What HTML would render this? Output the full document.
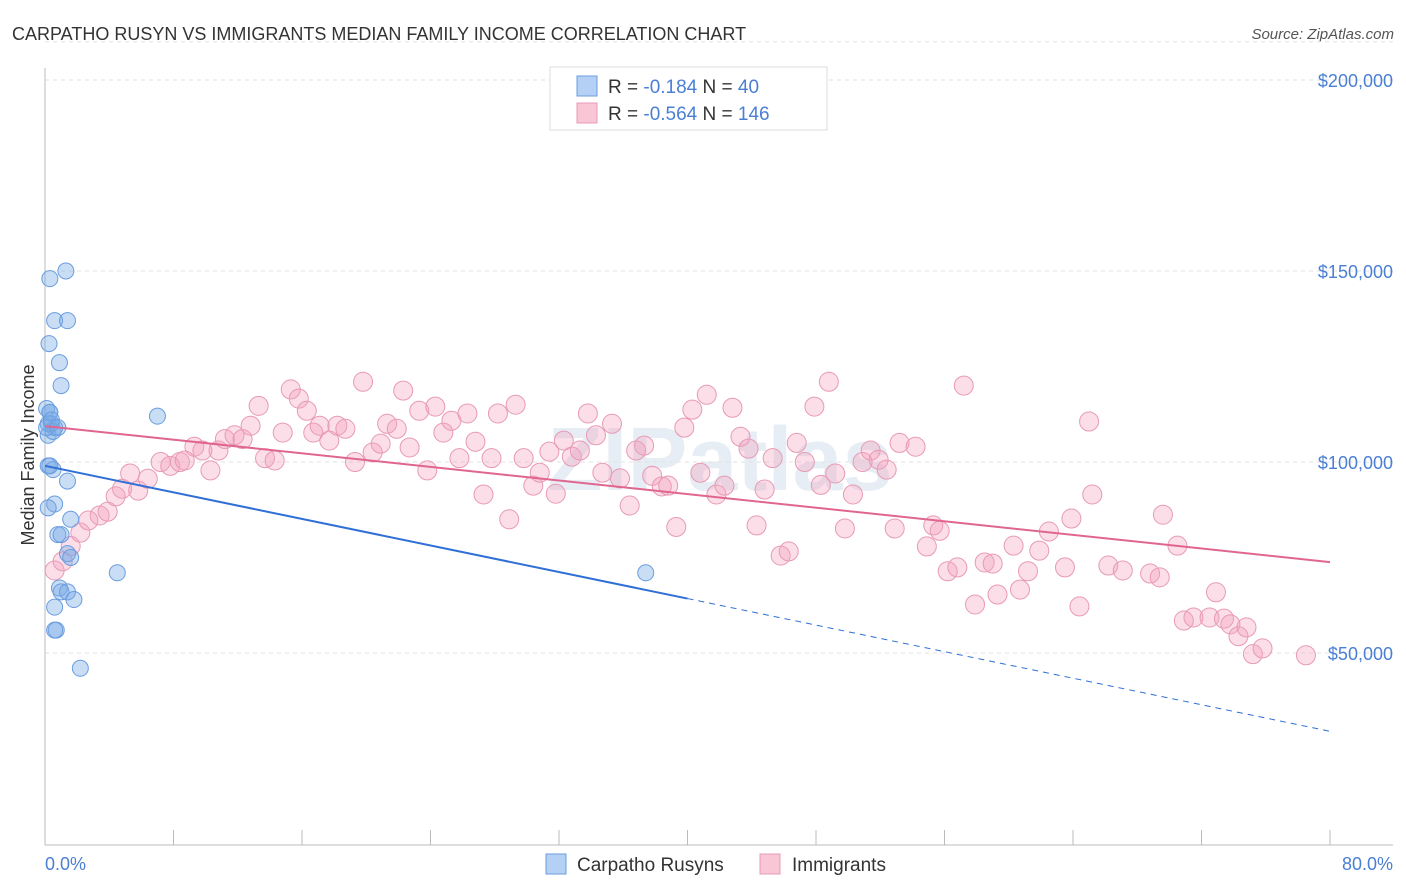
<!DOCTYPE html>
<html><head><meta charset="utf-8"><style>
body{margin:0;background:#fff;font-family:"Liberation Sans",sans-serif}
svg{display:block}
</style></head><body>
<svg id="c" width="1406" height="892" xmlns="http://www.w3.org/2000/svg">
<text x="12" y="40" font-size="18" fill="#333">CARPATHO RUSYN VS IMMIGRANTS MEDIAN FAMILY INCOME CORRELATION CHART</text>
<text x="1394" y="39" font-size="15" fill="#555" text-anchor="end" font-style="italic">Source: ZipAtlas.com</text>
<text x="720" y="490" font-size="90" fill="#d8e2ee" text-anchor="middle" font-weight="bold" opacity="0.6">ZIPatlas</text>
<g id="grid"></g><g id="pts"></g><g id="lines"></g>
<text transform="translate(34,455) rotate(-90)" font-size="18" fill="#333" text-anchor="middle">Median Family Income</text>
<text x="45" y="870" font-size="18" fill="#4a7fd4">0.0%</text>
<text x="1393" y="870" font-size="18" fill="#4a7fd4" text-anchor="end">80.0%</text>
<g>
<rect x="550" y="67" width="277" height="63" fill="#fff" stroke="#ddd"/>
<rect x="577" y="76" width="20" height="20" fill="#b5d0f5" stroke="#6a9de0"/>
<rect x="577" y="103" width="20" height="20" fill="#f9c6d6" stroke="#e89ab5"/>
<text x="608" y="93" font-size="19" fill="#333">R = <tspan fill="#4a7fd4">-0.184</tspan>   N = <tspan fill="#4a7fd4"> 40</tspan></text>
<text x="608" y="120" font-size="19" fill="#333">R = <tspan fill="#4a7fd4">-0.564</tspan>   N = <tspan fill="#4a7fd4">146</tspan></text>
</g>
<g>
<rect x="546" y="854" width="20" height="20" fill="#b5d0f5" stroke="#6a9de0"/>
<text x="577" y="871" font-size="19" fill="#333">Carpatho Rusyns</text>
<rect x="760" y="854" width="20" height="20" fill="#f9c6d6" stroke="#e89ab5"/>
<text x="792" y="871" font-size="19" fill="#333">Immigrants</text>
</g>
</svg>
<script>
const yTicks=[50000,100000,150000,200000];
const yTickLabels=["$50,000","$100,000","$150,000","$200,000"];
const blueX=[0.3,1.3,0.6,1.4,0.25,0.9,1.0,7.0,0.1,0.3,0.4,0.6,0.2,0.2,0.5,1.4,0.6,0.2,1.6,0.8,1.0,1.4,1.6,4.5,37.4,0.9,1.0,1.4,1.8,0.6,0.7,0.6,2.2,0.2,0.5,0.3,0.1,0.4,0.8,0.3];
const blueY=[148,150,137,137,131,126,120,112,114,113,110,109,107,99,98,95,89,88,85,81,81,76,75,71,71,67,66,66,64,62,56,56,46,110,108,113,109,111,109,99].map(v=>v*1000);
const pinkX=[0.6,1.1,1.6,2.2,2.7,3.4,3.9,4.4,4.8,5.3,5.8,6.4,7.2,7.8,8.4,8.7,9.3,9.8,10.3,10.8,11.2,11.8,12.3,12.8,13.3,13.7,14.3,14.8,15.3,15.8,16.3,16.7,17.1,17.7,18.2,18.7,19.3,19.8,20.4,20.9,21.3,21.9,22.3,22.7,23.3,23.8,24.3,24.8,25.3,25.8,26.3,26.8,27.3,27.8,28.2,28.9,29.3,29.8,30.4,30.8,31.4,31.8,32.3,32.8,33.3,33.8,34.3,34.7,35.3,35.8,36.4,36.8,37.3,37.8,38.4,38.8,39.3,39.8,40.3,40.8,41.2,41.8,42.3,42.8,43.3,43.8,44.3,44.8,45.3,45.8,46.3,46.8,47.3,47.9,48.3,48.8,49.2,49.8,50.3,50.9,51.4,51.9,52.4,52.9,53.2,54.2,54.9,55.3,55.7,56.2,56.8,57.2,57.9,58.5,59.0,59.3,60.3,60.7,61.2,61.9,62.5,63.5,63.9,64.4,65.0,65.2,66.2,67.1,68.8,69.4,69.6,70.5,70.9,71.5,72.5,72.9,73.4,73.8,74.3,74.8,75.2,75.8,78.5];
const pinkY=[71.6,74,78,81.5,84.7,86,87,91,93,97,92.5,95.6,100,99,100,100.4,104,103,97.8,103,106,107,106,109.5,114.7,101,100.4,107.7,119,116.6,113.4,107.7,109.5,105.6,109.5,108.7,100,121,102.5,104.8,110,108.7,118.7,103.8,113.4,97.8,114.5,107.7,110.8,101,112.7,105.3,91.5,101,112.7,85,115,101,93.8,97.2,102.7,91.7,105.6,101.4,103,112.7,107,97.2,110,95.7,88.6,103,104.3,96.4,93.6,93.8,83,109,113.7,97.2,117.6,91.5,93.8,114.2,106.6,103.5,83.4,92.8,101,75.5,76.6,105,100,114.5,94,121,97,82.6,91.5,100,103,100.6,98,82.6,105,104,77.9,83.4,82,71.4,72.4,120,62.7,73.7,73.4,65.3,78.1,66.6,71.4,76.8,81.8,72.4,85.2,62.2,110.6,91.5,72.9,71.6,70.8,69.8,86.2,78.1,58.5,59.3,59.3,65.9,59,57.5,54.4,56.7,49.7,51.2,49.4].map(v=>v*1000);
const blueTrend=[99000,29500];
const pinkTrend=[109400,73800];
const X=p=>45+p*(1330-45)/80;
const Y=v=>844-v*(844-653)/50000;
const NS="http://www.w3.org/2000/svg";
function mk(t,a,p){const e=document.createElementNS(NS,t);for(const k in a)e.setAttribute(k,a[k]);p.appendChild(e);return e;}
const g=document.getElementById('grid');
yTicks.forEach((t,i)=>{
 const l=mk('line',{x1:45,x2:1393,y1:Y(t),y2:Y(t),stroke:'#e2e2e2','stroke-dasharray':'4,4'},g);
 
 
 const tx=mk('text',{x:1393,y:Y(t)+7,'font-size':18,fill:'#4a7fd4','text-anchor':'end'},g);
 tx.textContent=yTickLabels[i];
 
 
});
mk('line',{x1:45,x2:1393,y1:Y(210000),y2:Y(210000),stroke:'#e2e2e2','stroke-dasharray':'4,4'},g);
mk('line',{x1:45,x2:45,y1:68,y2:845,stroke:'#bbb'},g);
mk('line',{x1:45,x2:1393,y1:845,y2:845,stroke:'#bbb'},g);
for(let i=0;i<=10;i++){const t=mk('line',{x1:X(i*8),x2:X(i*8),y1:830,y2:845,stroke:'#bbb'},g);
 
 }
const pg=document.getElementById('pts');
pinkX.forEach((x,i)=>{const c=mk('circle',{cx:X(x),cy:Y(pinkY[i]),r:9.5,fill:'rgba(244,160,190,0.35)',stroke:'#e89ab5','stroke-width':1},pg);
 
 });
blueX.forEach((x,i)=>{const c=mk('circle',{cx:X(x),cy:Y(blueY[i]),r:8,fill:'rgba(120,170,230,0.4)',stroke:'#6a9de0','stroke-width':1},pg);
 
 });
const lg=document.getElementById('lines');
const bAt=p=>blueTrend[0]+(blueTrend[1]-blueTrend[0])*p/80;
let l1=mk('line',{x1:X(0),y1:Y(bAt(0)),x2:X(40),y2:Y(bAt(40)),stroke:'#2f6fd6','stroke-width':2},lg);


let l2=mk('line',{x1:X(40),y1:Y(bAt(40)),x2:X(80),y2:Y(bAt(80)),stroke:'#2f6fd6','stroke-width':1,'stroke-dasharray':'6,5'},lg);


let l3=mk('line',{x1:X(0),y1:Y(pinkTrend[0]),x2:X(80),y2:Y(pinkTrend[1]),stroke:'#e06690','stroke-width':2},lg);


</script>
</body></html>
